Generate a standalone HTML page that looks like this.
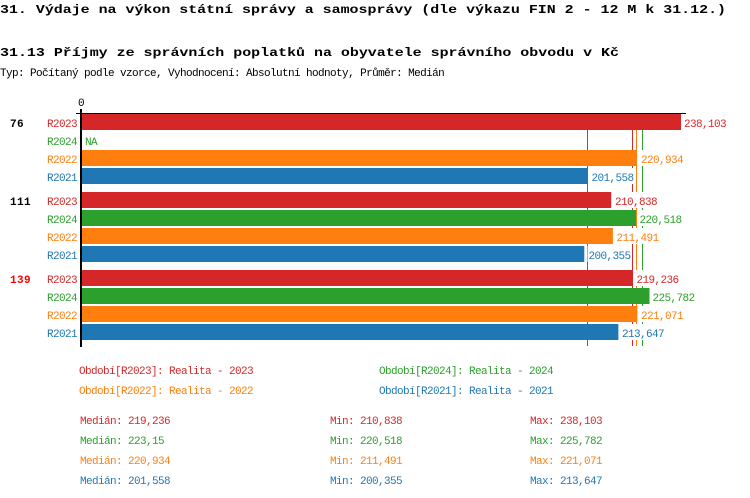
<!DOCTYPE html>
<html><head><meta charset="utf-8"><style>
html,body{margin:0;padding:0;background:#fff;}
svg{display:block;}
text{font-family:"Liberation Mono","DejaVu Sans Mono",monospace;}
.s{font-size:11px;letter-spacing:-0.6px;}
.t{font-size:12px;font-weight:bold;}
.g{font-size:11px;font-weight:bold;letter-spacing:0.4px;}
.r{fill:#d62728}.gr{fill:#2ca02c}.o{fill:#ff7f0e}.b{fill:#1f77b4}
</style></head><body>
<svg width="750" height="498" viewBox="0 0 750 498" xmlns="http://www.w3.org/2000/svg">
<text class="t" x="0" y="13" fill="#000" textLength="726" lengthAdjust="spacingAndGlyphs">31. Výdaje na výkon státní správy a samosprávy (dle výkazu FIN 2 - 12 M k 31.12.)</text>
<text class="t" x="0" y="56" fill="#000" textLength="619" lengthAdjust="spacingAndGlyphs">31.13 Příjmy ze správních poplatků na obyvatele správního obvodu v Kč</text>
<text class="s" x="0" y="76" fill="#000">Typ: Počítaný podle vzorce, Vyhodnocení: Absolutní hodnoty, Průměr: Medián</text>

<text class="s" x="78" y="106" fill="#000">0</text>

<!-- median lines -->
<rect x="632" y="114" width="1" height="232" fill="#d62728"/>
<rect x="636" y="114" width="1" height="232" fill="#ff7f0e"/>
<rect x="642" y="114" width="1" height="232" fill="#2ca02c"/>
<rect x="587" y="114" width="1" height="232" fill="#1f77b4"/>

<!-- label backgrounds -->
<g fill="#fff">
<rect x="683" y="114" width="43" height="16"/>
<rect x="640" y="150" width="43" height="16"/>
<rect x="590.5" y="168" width="43" height="16"/>
<rect x="614" y="192" width="43" height="16"/>
<rect x="638.5" y="210" width="43" height="16"/>
<rect x="615.5" y="228" width="43" height="16"/>
<rect x="587.5" y="246" width="43" height="16"/>
<rect x="635.5" y="270" width="43" height="16"/>
<rect x="651.5" y="288" width="43" height="16"/>
<rect x="640" y="306" width="43" height="16"/>
<rect x="621" y="324" width="43" height="16"/>
</g>

<!-- group 1 -->
<text class="g" x="10" y="127" fill="#000">76</text>
<text class="s r" x="47" y="127">R2023</text>
<rect x="82" y="114" width="599" height="16" fill="#d62728"/>
<text class="s r" x="684" y="127">238,103</text>
<text class="s gr" x="47" y="145">R2024</text>
<text class="s gr" x="85" y="145">NA</text>
<text class="s o" x="47" y="163">R2022</text>
<rect x="82" y="150" width="555" height="16" fill="#ff7f0e"/>
<text class="s o" x="641" y="163">220,934</text>
<text class="s b" x="47" y="181">R2021</text>
<rect x="82" y="168" width="505.4" height="16" fill="#1f77b4"/>
<text class="s b" x="591.5" y="181">201,558</text>

<!-- group 2 -->
<text class="g" x="10" y="205" fill="#000">111</text>
<text class="s r" x="47" y="205">R2023</text>
<rect x="82" y="192" width="529.2" height="16" fill="#d62728"/>
<text class="s r" x="615" y="205">210,838</text>
<text class="s gr" x="47" y="223">R2024</text>
<rect x="82" y="210" width="554" height="16" fill="#2ca02c"/>
<text class="s gr" x="639.5" y="223">220,518</text>
<text class="s o" x="47" y="241">R2022</text>
<rect x="82" y="228" width="530.9" height="16" fill="#ff7f0e"/>
<text class="s o" x="616.5" y="241">211,491</text>
<text class="s b" x="47" y="259">R2021</text>
<rect x="82" y="246" width="502.3" height="16" fill="#1f77b4"/>
<text class="s b" x="588.5" y="259">200,355</text>

<!-- group 3 -->
<text class="g" x="10" y="283" fill="#ff0000">139</text>
<text class="s r" x="47" y="283">R2023</text>
<rect x="82" y="270" width="550.7" height="16" fill="#d62728"/>
<text class="s r" x="636.5" y="283">219,236</text>
<text class="s gr" x="47" y="301">R2024</text>
<rect x="82" y="288" width="567.5" height="16" fill="#2ca02c"/>
<text class="s gr" x="652.5" y="301">225,782</text>
<text class="s o" x="47" y="319">R2022</text>
<rect x="82" y="306" width="555.4" height="16" fill="#ff7f0e"/>
<text class="s o" x="641" y="319">221,071</text>
<text class="s b" x="47" y="337">R2021</text>
<rect x="82" y="324" width="536.4" height="16" fill="#1f77b4"/>
<text class="s b" x="622" y="337">213,647</text>

<!-- axes -->
<rect x="76" y="113" width="610" height="1" fill="#000"/>
<rect x="80" y="109" width="2" height="238" fill="#000"/>

<!-- legend -->
<text class="s r" x="79" y="374">Období[R2023]: Realita - 2023</text>
<text class="s gr" x="379" y="374">Období[R2024]: Realita - 2024</text>
<text class="s o" x="79" y="394">Období[R2022]: Realita - 2022</text>
<text class="s b" x="379" y="394">Období[R2021]: Realita - 2021</text>

<!-- stats -->
<text class="s r" x="80" y="424">Medián: 219,236</text>
<text class="s r" x="330" y="424">Min: 210,838</text>
<text class="s r" x="530" y="424">Max: 238,103</text>
<text class="s gr" x="80" y="444">Medián: 223,15</text>
<text class="s gr" x="330" y="444">Min: 220,518</text>
<text class="s gr" x="530" y="444">Max: 225,782</text>
<text class="s o" x="80" y="464">Medián: 220,934</text>
<text class="s o" x="330" y="464">Min: 211,491</text>
<text class="s o" x="530" y="464">Max: 221,071</text>
<text class="s b" x="80" y="484">Medián: 201,558</text>
<text class="s b" x="330" y="484">Min: 200,355</text>
<text class="s b" x="530" y="484">Max: 213,647</text>
</svg>
</body></html>
